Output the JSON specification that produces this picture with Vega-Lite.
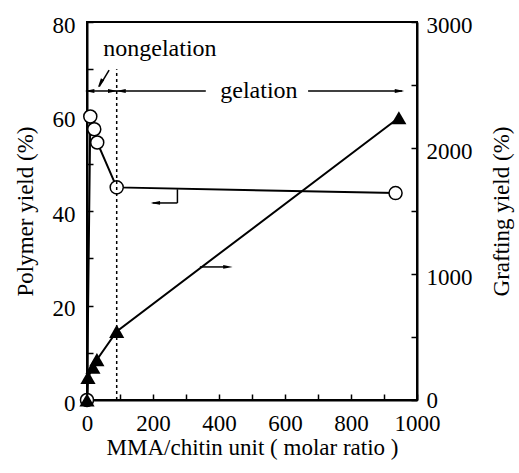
{
  "$schema": "https://vega.github.io/schema/vega-lite/v6.json",
  "width": 330,
  "height": 378,
  "autosize": "none",
  "padding": {"left": 87, "top": 22, "right": 102, "bottom": 73},
  "background": "white",
  "config": {
    "font": "Liberation Serif",
    "view": {"stroke": "black", "strokeWidth": 2},
    "axis": {
      "domainColor": "black", "domainWidth": 2,
      "tickColor": "black", "tickWidth": 1.5, "tickSize": -6,
      "labelColor": "black", "titleColor": "black",
      "labelFont": "Liberation Serif", "titleFont": "Liberation Serif",
      "labelFontSize": 23, "titleFontSize": 23, "titleFontWeight": "normal",
      "grid": false, "labelFlush": false, "labelOverlap": false
    }
  },
  "datasets": {
    "polymer": [
      {"x": 0, "y": 0}, {"x": 10, "y": 60}, {"x": 22, "y": 57.3}, {"x": 31, "y": 54.5}, {"x": 90, "y": 45}, {"x": 935, "y": 43.8}
    ],
    "grafting": [
      {"x": 0, "g": 0}, {"x": 3, "g": 180}, {"x": 18, "g": 260}, {"x": 30, "g": 320}, {"x": 90, "g": 545}, {"x": 945, "g": 2240}
    ]
  },
  "encoding": {
    "x": {
      "field": "x", "type": "quantitative",
      "scale": {"domain": [0, 1000], "nice": false},
      "axis": {
        "values": [0, 100, 200, 300, 400, 500, 600, 700, 800, 900, 1000],
        "format": "d",
        "labelExpr": "datum.value % 200 == 0 ? datum.label : ''",
        "title": "MMA/chitin unit ( molar ratio )",
        "labelPadding": 18, "titlePadding": 1
      }
    }
  },
  "layer": [
    {
      "encoding": {
        "y": {
          "field": "y", "type": "quantitative",
          "scale": {"domain": [0, 80], "nice": false},
          "axis": {
            "values": [0, 10, 20, 30, 40, 50, 60, 70, 80],
            "format": "d",
            "labelExpr": "datum.value % 20 == 0 ? datum.label : ''",
            "title": "Polymer yield (%)",
            "labelPadding": 18, "titlePadding": 15, "labelOffset": 3
          }
        }
      },
      "layer": [
        {
          "data": {"name": "polymer"},
          "mark": {"type": "line", "color": "black", "strokeWidth": 2}
        },
        {
          "data": {"name": "polymer"},
          "mark": {"type": "point", "shape": "circle", "filled": true, "fill": "white", "stroke": "black", "strokeWidth": 1.5, "size": 170, "opacity": 1}
        },
        {
          "data": {"values": [{"x": 90, "y": 0, "y2": 70}]},
          "mark": {"type": "rule", "color": "black", "strokeWidth": 1.5, "strokeDash": [3, 3]},
          "encoding": {"y2": {"field": "y2"}}
        },
        {
          "data": {"values": [
            {"x": 0, "x2": 88, "y": 65.4, "y2": 65.4},
            {"x": 88, "x2": 360, "y": 65.4, "y2": 65.4},
            {"x": 670, "x2": 955, "y": 65.4, "y2": 65.4},
            {"x": 67, "x2": 37, "y": 69.8, "y2": 66.3},
            {"x": 274, "x2": 274, "y": 44.6, "y2": 41.7},
            {"x": 274, "x2": 199, "y": 41.7, "y2": 41.7}
          ]},
          "mark": {"type": "rule", "color": "black", "strokeWidth": 1.5},
          "encoding": {"x2": {"field": "x2"}, "y2": {"field": "y2"}}
        },
        {
          "data": {"values": [{"x": 8, "y": 65.4}, {"x": 103, "y": 65.4}, {"x": 207, "y": 41.7}]},
          "mark": {"type": "point", "shape": "M1,-0.4L-1,0L1,0.4Z", "filled": true, "color": "black", "size": 90, "opacity": 1}
        },
        {
          "data": {"values": [{"x": 78, "y": 65.4}, {"x": 947, "y": 65.4}]},
          "mark": {"type": "point", "shape": "M-1,-0.4L1,0L-1,0.4Z", "filled": true, "color": "black", "size": 90, "opacity": 1}
        },
        {
          "data": {"values": [{"x": 40, "y": 67}]},
          "mark": {"type": "point", "shape": "M-0.4,-1L0,1L0.4,-1Z", "angle": 30, "filled": true, "color": "black", "size": 90, "opacity": 1}
        },
        {
          "data": {"values": [{"x": 221, "y": 74.3, "label": "nongelation"}, {"x": 521, "y": 65.4, "label": "gelation"}]},
          "mark": {"type": "text", "font": "Liberation Serif", "fontSize": 24, "color": "black", "baseline": "middle", "align": "center"},
          "encoding": {"text": {"field": "label"}}
        }
      ]
    },
    {
      "encoding": {
        "y": {
          "field": "g", "type": "quantitative",
          "scale": {"domain": [0, 3000], "nice": false},
          "axis": {
            "orient": "right",
            "values": [0, 500, 1000, 1500, 2000, 2500, 3000],
            "format": "d",
            "labelExpr": "datum.value % 1000 == 0 ? datum.label : ''",
            "title": "Grafting yield (%)",
            "titleAngle": -90,
            "titleBaseline": "bottom",
            "labelPadding": 15, "titlePadding": 41,
            "labelOffset": {"condition": {"test": "datum.value == 0", "value": 0}, "value": 3}
          }
        }
      },
      "layer": [
        {
          "data": {"name": "grafting"},
          "mark": {"type": "line", "color": "black", "strokeWidth": 2}
        },
        {
          "data": {"name": "grafting"},
          "mark": {"type": "point", "shape": "triangle-up", "filled": true, "color": "black", "size": 230, "opacity": 1}
        },
        {
          "data": {"values": [{"x": 342, "x2": 425, "g": 1056}]},
          "mark": {"type": "rule", "color": "black", "strokeWidth": 1.5},
          "encoding": {"x2": {"field": "x2"}}
        },
        {
          "data": {"values": [{"x": 427, "g": 1056}]},
          "mark": {"type": "point", "shape": "M-1,-0.4L1,0L-1,0.4Z", "filled": true, "color": "black", "size": 90, "opacity": 1}
        }
      ]
    }
  ],
  "resolve": {"scale": {"y": "independent"}}
}
